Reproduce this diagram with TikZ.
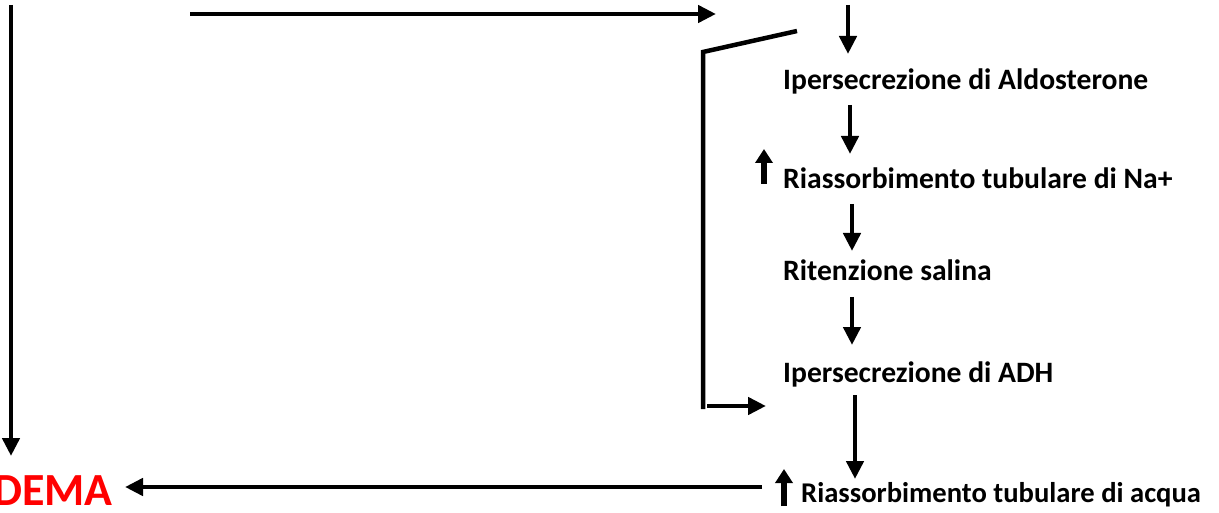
\documentclass[tikz,border=0pt]{standalone}
\usepackage{fontspec}
\setmainfont{Carlito}
\usetikzlibrary{arrows.meta}
\definecolor{edred}{RGB}{255,0,0}
\tikzset{
  x=1pt,y=-1pt,
  conn/.style={line width=4.5pt,-{Triangle[length=18pt,width=17pt]}},
  upar/.style={line width=5.5pt,-{Triangle[length=14pt,width=17pt]}},
  plain/.style={line width=4.5pt},
  lbl/.style={anchor=base west,inner sep=0pt,font=\bfseries\fontsize{29.6}{34}\selectfont},
}
\begin{document}
\begin{tikzpicture}
\useasboundingbox (0,0) rectangle (1219,513);
% labels
\node[lbl] (ald) at (783,90) {Ipersecrezione di Aldosterone};
\node[lbl] (na) at (783,189) {Riassorbimento tubulare di Na+};
\node[lbl] (sal) at (783,281) {Ritenzione salina};
\node[lbl] (adh) at (783,382) {Ipersecrezione di ADH};
\node[lbl,font=\bfseries\fontsize{28.6}{33}\selectfont] (acq) at (801,502) {Riassorbimento tubulare di acqua};
\node[anchor=base east,inner sep=0pt,text=edred,font=\bfseries\fontsize{46}{50}\selectfont] (edema) at (113,505) {EDEMA};
% coordinates
\coordinate (l0) at (11,5);
\coordinate (l1) at (11,456);
\coordinate (t0) at (190,14);
\coordinate (t1) at (716,14);
\coordinate (s0) at (797,31);
\coordinate (s1) at (703,52);
\coordinate (s2) at (703,409);
\coordinate (b0) at (707,406);
\coordinate (b1) at (766,406);
\coordinate (a0) at (848,5);
\coordinate (a1) at (848,54);
\coordinate (c0) at (850,105);
\coordinate (c1) at (850,154);
\coordinate (d0) at (852,204);
\coordinate (d1) at (852,251);
\coordinate (e0) at (852,297);
\coordinate (e1) at (852,345);
\coordinate (f0) at (855,395);
\coordinate (f1) at (855,479);
\coordinate (u0) at (764,184);
\coordinate (u1) at (764,149);
\coordinate (v0) at (784,506);
\coordinate (v1) at (784,469);
\coordinate (h0) at (762,487);
\coordinate (h1) at (125,487);
% connectors
\draw[conn] (l0) -- (l1);
\draw[conn] (t0) -- (t1);
\draw[plain] (s0) -- (s1) -- (s2);
\draw[conn] (b0) -- (b1);
\draw[conn] (a0) -- (a1);
\draw[conn] (c0) -- (c1);
\draw[conn] (d0) -- (d1);
\draw[conn] (e0) -- (e1);
\draw[conn] (f0) -- (f1);
\draw[upar] (u0) -- (u1);
\draw[upar] (v0) -- (v1);
\draw[conn] (h0) -- (h1);
\end{tikzpicture}
\end{document}
